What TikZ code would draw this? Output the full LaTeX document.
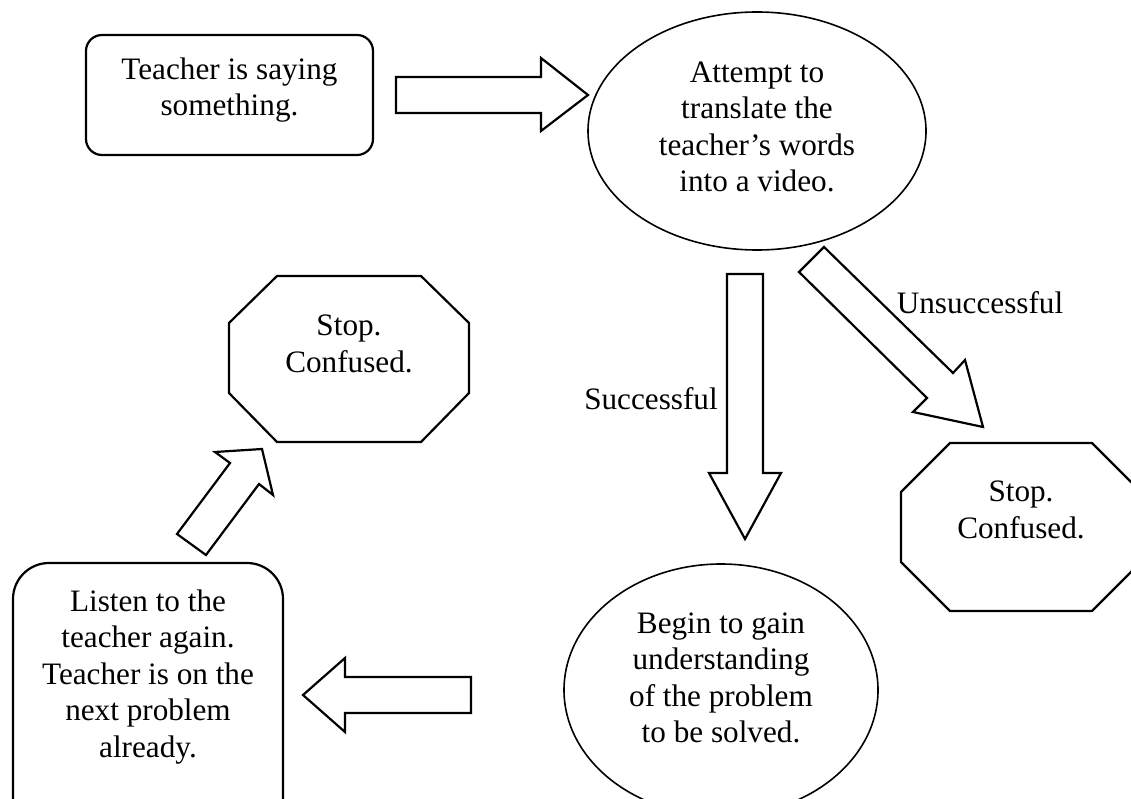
\documentclass[tikz,border=0pt]{standalone}
\usepackage{fontspec}
\setmainfont{Liberation Serif}
\usetikzlibrary{shapes.geometric}
\tikzset{
  txt/.style={align=center, inner sep=0pt, font=\fontsize{31.2}{36.5}\selectfont},
  outline/.style={draw=black, line width=2.2pt, line join=miter},
  oval/.style={draw=black, line width=1.6pt, ellipse, inner sep=0pt},
  blockarrow/.style={draw=black, line width=2.2pt, fill=white, line join=miter},
}
\begin{document}
\begin{tikzpicture}[x=1pt,y=-1pt]
\useasboundingbox (0,0) rectangle (1131,799);
\fill[white] (0,0) rectangle (1131,799);
\clip (0,0) rectangle (1131,799);

% top-left rounded box
\draw[outline, rounded corners=16pt] (86,35) rectangle (373,155);
\node[txt] (teach) at (229.5,90) {Teacher is saying\\something.};

% top ellipse
\node[oval, minimum width=338pt, minimum height=238pt] (attempt) at (757,131) {};
\node[txt] (attemptt) at (757,127) {Attempt to\\translate the\\teacher’s words\\into a video.};

% arrow teacher -> attempt
\draw[blockarrow] (396,77) -- (541,77) -- (541,58) -- (588,95) -- (541,131) -- (541,113) -- (396,113) -- cycle;

% down arrow (successful)
\draw[blockarrow] (727,274) -- (763,274) -- (763,473) -- (781,473) -- (745,539) -- (709,473) -- (727,473) -- cycle;
\node[txt, anchor=base] (succ) at (651,409) {Successful};

% diagonal arrow (unsuccessful)
\draw[blockarrow] (824,247) -- (953,373) -- (965,360) -- (983,427) -- (913,412) -- (927,398) -- (799,272) -- cycle;
\node[txt, anchor=base] (unsucc) at (980,313) {Unsuccessful};

% right octagon
\draw[outline] (950,443) -- (1092,443) -- (1141,492) -- (1141,562) -- (1092,611) -- (950,611) -- (901,562) -- (901,492) -- cycle;
\node[txt] (stopR) at (1021,510) {Stop.\\Confused.};

% bottom ellipse
\node[oval, minimum width=314pt, minimum height=252pt] (begin) at (721,690) {};
\node[txt] (begint) at (721,678) {Begin to gain\\understanding\\of the problem\\to be solved.};

% left arrow
\draw[blockarrow] (471,677) -- (345,677) -- (345,658) -- (303,695) -- (345,732) -- (345,713) -- (471,713) -- cycle;

% bottom-left rounded box
\draw[outline, rounded corners=36pt] (13,563) rectangle (283,870);
\node[txt] (listen) at (148,677) {Listen to the\\teacher again.\\Teacher is on the\\next problem\\already.};

% up-right arrow
\draw[blockarrow] (206,555) -- (259,484) -- (273,495) -- (262,449) -- (215,452) -- (230,463) -- (177,534) -- cycle;

% top-left octagon
\draw[outline] (277,276) -- (421,276) -- (469,323) -- (469,393) -- (421,442) -- (277,442) -- (229,393) -- (229,323) -- cycle;
\node[txt] (stopL) at (349,344) {Stop.\\Confused.};
\end{tikzpicture}
\end{document}
